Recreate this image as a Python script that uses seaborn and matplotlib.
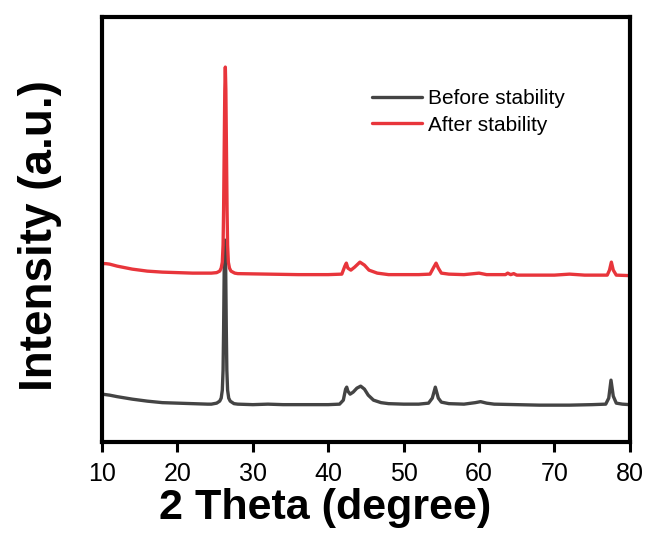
import matplotlib
matplotlib.use("Agg")
import matplotlib.pyplot as plt
import seaborn as sns
import numpy as np
import pandas as pd

# 2 theta (degree) and intensity (a.u.)
before_theta = [10, 11, 12, 14, 16, 18, 20, 22, 24, 24.5, 25.2, 25.6, 25.8, 25.95, 26.05, 26.12,
                26.2, 26.3, 26.4, 26.48, 26.55, 26.65, 26.8, 27.0, 27.5, 28, 30, 32, 34, 36, 38,
                40, 41.5, 42.0, 42.3, 42.45, 42.6, 42.9, 43.3, 43.8, 44.3, 44.8, 45.3, 46, 47, 48,
                50, 52, 53.3, 53.8, 54.2, 54.6, 55, 56, 58, 59.5, 60.2, 61, 62, 65, 68, 72, 75,
                76.8, 77.2, 77.5, 77.8, 78.2, 79, 80]
before_int = [48, 47, 45.5, 43, 41, 39.5, 39, 38.5, 38, 38, 39, 41, 44, 52, 72, 112,
              172, 202, 172, 112, 72, 52, 44, 41, 38.5, 38, 37.5, 38, 37.5, 37.5, 37.5,
              37.5, 38, 42, 53, 55, 51, 48, 50, 54, 56, 53, 47, 42, 39.5, 38.5,
              38, 38, 39, 44, 55, 44, 40, 38.5, 38, 39.5, 40.5, 39, 38, 37.5, 37, 37, 37.5,
              38, 44, 62, 46, 39, 38, 37.5]

after_theta = [10, 10.5, 11, 12, 14, 16, 18, 20, 22, 24, 24.5, 25.2, 25.6, 25.8, 25.95, 26.05,
               26.12, 26.2, 26.28, 26.35, 26.42, 26.5, 26.58, 26.65, 26.75, 26.9, 27.1, 27.6, 28,
               32, 36, 40, 41.8, 42.2, 42.4, 42.6, 43.0, 43.5, 44.2, 44.8, 45.4, 46.5, 48, 52,
               53.5, 54.0, 54.3, 54.6, 55, 56, 58, 60, 61, 63.5, 63.8, 64.2, 64.6, 65, 70, 72,
               74, 77.0, 77.3, 77.55, 77.8, 78.2, 80]
after_int = [178.5, 178.5, 178, 176, 173, 171, 170, 169.5, 169, 169, 169, 169.5, 171, 174, 180, 197,
             232, 292, 352, 375, 352, 292, 232, 197, 180, 174, 171, 169, 168.5,
             168, 167.5, 167.5, 168, 176, 179, 174, 172, 175, 180, 177, 172, 169, 167.5, 167.5,
             168, 175, 179, 174, 169, 168, 167.5, 169, 167.5, 167.5, 169, 167.5, 168.5, 167, 167, 168,
             167, 167, 172, 180, 172, 167, 166.5]

labels = ["Before stability", "After stability"]
colors = ["#444444", "#e8353b"]

df = pd.concat([
    pd.DataFrame({"theta": after_theta, "intensity": after_int, "sample": labels[1]}),
    pd.DataFrame({"theta": before_theta, "intensity": before_int, "sample": labels[0]}),
])

sns.set_style("ticks", {"axes.edgecolor": "black", "text.color": "black",
                        "xtick.color": "black", "axes.labelcolor": "black"})
plt.rcParams["font.family"] = ["Liberation Sans", "DejaVu Sans"]

fig = plt.figure(figsize=(6.5, 5.34), dpi=100)
ax = fig.add_axes([0.157, 0.172, 0.812, 0.796])

sns.lineplot(data=df, x="theta", y="intensity", hue="sample", hue_order=labels,
             palette=colors, linewidth=2.4, sort=False, estimator=None, ax=ax)

ax.set_xlim(10, 80)
ax.set_ylim(0, 425)
ax.set_xticks(range(10, 81, 10))
ax.set_yticks([])
ax.tick_params(axis="x", direction="out", length=7, width=2.2, labelsize=18, pad=7,
               colors="black")
for s in ax.spines.values():
    s.set_linewidth(3)
    s.set_color("black")
    s.set_visible(True)

ax.set_xlabel("2 Theta (degree)", fontsize=31, fontweight="bold")
ax.set_ylabel("Intensity (a.u.)", fontsize=33, fontweight="bold")
ax.xaxis.set_label_coords(0.422, -0.107, transform=ax.transAxes)
ax.xaxis.label.set_va("top")
ax.yaxis.set_label_coords(-0.075, 0.487)

leg = ax.legend(loc="upper left", bbox_to_anchor=(0.511, 0.83), frameon=False, fontsize=15,
                borderpad=0, borderaxespad=0, handlelength=2.4, handletextpad=0.3,
                labelspacing=0.35)
for line in leg.get_lines():
    line.set_linewidth(2.4)

fig.savefig("out.png", dpi=100)
